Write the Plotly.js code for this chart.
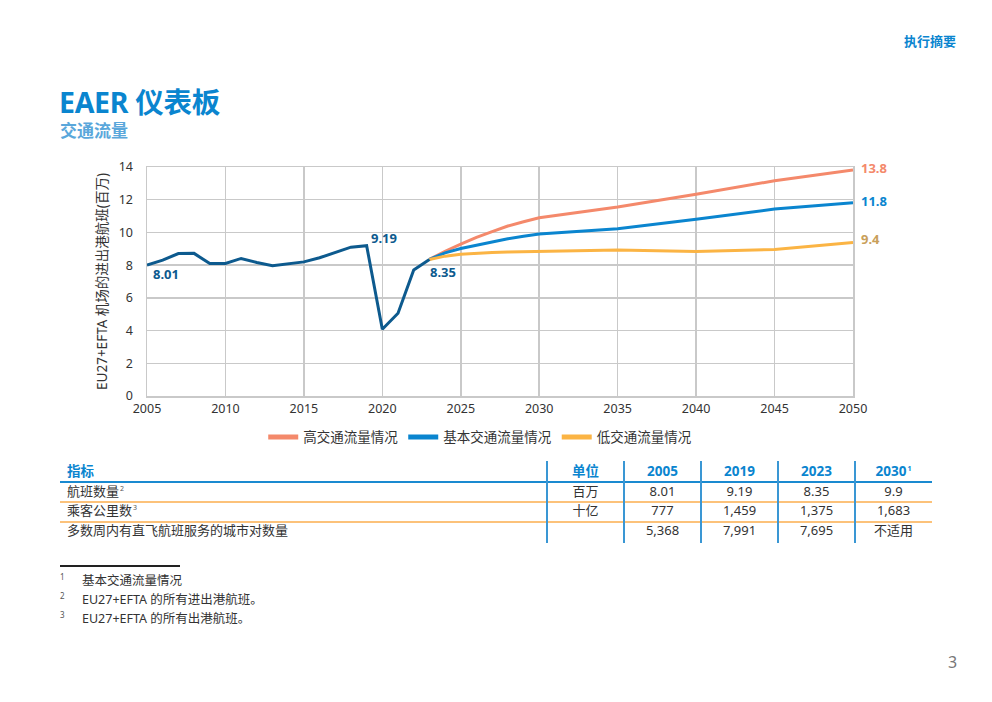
<!DOCTYPE html>
<html>
<head>
<meta charset="utf-8">
<script src="https://cdn.plot.ly/plotly-3.0.1.min.js"></script>
<style>
  html, body { margin:0; padding:0; background:#fff; }
  body { width:992px; height:702px; position:relative; overflow:hidden;
         font-family:"Noto Sans","Noto Sans CJK SC",sans-serif; color:#333; }
  #chart { position:absolute; left:0; top:0; width:992px; height:702px; }
  .abs { position:absolute; white-space:nowrap; }
  .cell { position:absolute; font-size:13px; line-height:19px; height:19px; color:#333; white-space:nowrap; }
  .sp { font-size:7px; color:#555; position:relative; top:-5px; margin-left:1px; line-height:0; }
</style>
</head>
<body>
<div id="chart"></div>
<div id="overlay"></div>
<script>
// ---------- data ----------
const histYears = [2005,2006,2007,2008,2009,2010,2011,2012,2013,2014,2015,2016,2017,2018,2019,2020,2021,2022,2023];
const histValues = [8.01,8.31,8.71,8.72,8.10,8.10,8.41,8.16,7.96,8.08,8.20,8.45,8.78,9.10,9.19,4.08,5.06,7.71,8.35];

const projYears = [2023,2024,2025,2026,2027,2028,2029,2030,2035,2040,2045,2050];
const highValues = [8.35,8.85,9.29,9.70,10.05,10.39,10.65,10.90,11.55,12.33,13.16,13.82];
const baseValues = [8.35,8.75,9.02,9.22,9.42,9.61,9.76,9.90,10.22,10.80,11.43,11.82];
const lowValues  = [8.35,8.55,8.67,8.74,8.78,8.80,8.82,8.84,8.92,8.84,8.96,9.39];

const seriesNames = ['高交通流量情况','基本交通流量情况','低交通流量情况'];
const yTitle = 'EU27+EFTA 机场的进出港航班(百万)';

const tableHeader = ['指标','单位','2005','2019','2023','2030'];
const tableRowLabels = ['航班数量','乘客公里数','多数周内有直飞航班服务的城市对数量'];
const tableRowSup = ['2','3',''];
const tableUnits = ['百万','十亿',''];
const table2005 = ['8.01','777','5,368'];
const table2019 = ['9.19','1,459','7,991'];
const table2023 = ['8.35','1,375','7,695'];
const table2030 = ['9.9','1,683','不适用'];

const footnotes = ['基本交通流量情况','EU27+EFTA 的所有进出港航班。','EU27+EFTA 的所有出港航班。'];

// ---------- chart ----------
const FONT = '"Noto Sans","Noto Sans CJK SC",sans-serif';
const cHist = '#0d5a8e', cHigh = '#f4896b', cBase = '#0a85cf', cLow = '#fbb444';

const traces = [
  {x: projYears, y: highValues, name: seriesNames[0], mode:'lines', line:{color:cHigh, width:3}},
  {x: projYears, y: baseValues, name: seriesNames[1], mode:'lines', line:{color:cBase, width:3}},
  {x: projYears, y: lowValues,  name: seriesNames[2], mode:'lines', line:{color:cLow, width:3}},
  {x: histYears, y: histValues, name: 'hist', mode:'lines', line:{color:cHist, width:3}, showlegend:false}
];

const iLast = histValues.length - 1;
const i2019 = histYears.indexOf(2019);
const nP = projYears.length - 1;
const annotations = [
  {x: histYears[0], y: histValues[0], text: histValues[0].toFixed(2), xanchor:'left', yanchor:'top', xshift:4, yshift:2, font:{color:cHist}},
  {x: histYears[i2019], y: histValues[i2019], text: histValues[i2019].toFixed(2), xanchor:'left', yanchor:'bottom', xshift:2, yshift:-3, font:{color:cHist}},
  {x: histYears[iLast], y: histValues[iLast], text: histValues[iLast].toFixed(2), xanchor:'left', yanchor:'top', xshift:-1, yshift:-2, font:{color:cHist}},
  {x: projYears[nP], y: highValues[nP], text: highValues[nP].toFixed(1), xanchor:'left', yanchor:'middle', xshift:6, yshift:2, font:{color:cHigh}},
  {x: projYears[nP], y: baseValues[nP], text: baseValues[nP].toFixed(1), xanchor:'left', yanchor:'middle', xshift:6, yshift:2, font:{color:cBase}},
  {x: projYears[nP], y: lowValues[nP],  text: lowValues[nP].toFixed(1),  xanchor:'left', yanchor:'middle', xshift:6, yshift:3, font:{color:'#c9a05a'}}
].map(a => Object.assign({showarrow:false}, a, {font:Object.assign({family:FONT, size:13, weight:'bold'}, a.font)}));

const layout = {
  width: 992, height: 702,
  margin: {l:147, r:139, t:167, b:306, pad:0},
  paper_bgcolor:'rgba(0,0,0,0)', plot_bgcolor:'#fff',
  font: {family: FONT, size: 12.5, color:'#333'},
  showlegend: true,
  legend: {orientation:'h', x:0.472, xanchor:'center', y:-0.18, yanchor:'middle',
           font:{size:13.5, color:'#333'}, itemwidth:30, tracegroupgap:0, itemsizing:'constant'},
  xaxis: {range:[2005,2050], dtick:5, tick0:2005, showgrid:true, gridcolor:'#c9c9c9', gridwidth:1.5,
          zeroline:false, showline:true, linecolor:'#c9c9c9', linewidth:1.5, mirror:true,
          ticks:'', ticklen:0, tickfont:{size:12.5, color:'#333'}, ticklabelstandoff:0, fixedrange:true},
  yaxis: {range:[0,14], dtick:2, showgrid:true, gridcolor:'#c9c9c9', gridwidth:1.5,
          zeroline:false, showline:true, linecolor:'#c9c9c9', linewidth:1.5, mirror:true,
          ticks:'', tickfont:{size:12.5, color:'#333'}, ticklabelstandoff:10, fixedrange:true,
          title:{text: yTitle, font:{size:13.5, color:'#333'}, standoff:8}},
  annotations: annotations
};

Plotly.newPlot('chart', traces, layout, {displayModeBar:false, staticPlot:true});

// ---------- text & table overlay ----------
const ov = document.getElementById('overlay');
function add(html, style, cls) {
  const d = document.createElement('div');
  d.className = cls || 'abs';
  d.innerHTML = html;
  Object.assign(d.style, style);
  ov.appendChild(d);
  return d;
}
function line(x, y, w, h, color) {
  add('', {left:x+'px', top:y+'px', width:w+'px', height:h+'px', background:color});
}

add('执行摘要', {left:'904px', top:'31px', fontSize:'13px', fontWeight:'bold', color:'#0a85cf'});
add('EAER 仪表板', {left:'59px', top:'80px', fontSize:'28.5px', fontWeight:'bold', color:'#0a85cf', letterSpacing:'-0.3px'});
add('交通流量', {left:'60px', top:'117px', fontSize:'17px', fontWeight:'bold', color:'#5aa7db'});

// table
const colEdges = [60, 547, 624, 701, 778, 855, 932];
const rowTops = [462, 482, 501, 521];
const cols = [tableRowLabels, tableUnits, table2005, table2019, table2023, table2030];

tableHeader.forEach((h, c) => {
  const txt = (c === 5) ? h + '<span class="sp" style="color:#0a85cf">1</span>' : h;
  const st = {top: rowTops[0]+'px', fontWeight:'bold', color:'#0a85cf', fontSize:'13.5px'};
  if (c === 0) { st.left = (colEdges[0]+7)+'px'; }
  else { st.left = colEdges[c]+'px'; st.width = (colEdges[c+1]-colEdges[c])+'px'; st.textAlign='center'; }
  add(txt, st, 'cell');
});
for (let r = 0; r < 3; r++) {
  cols.forEach((col, c) => {
    let txt = col[r];
    if (c === 0 && tableRowSup[r]) txt += '<span class="sp">' + tableRowSup[r] + '</span>';
    const st = {top: rowTops[r+1]+'px'};
    if (c === 0) { st.left = (colEdges[0]+7)+'px'; }
    else { st.left = colEdges[c]+'px'; st.width = (colEdges[c+1]-colEdges[c])+'px'; st.textAlign='center'; }
    add(txt, st, 'cell');
  });
}
line(60, 481, 872, 2, '#1a8ad0');
line(60, 501, 872, 2, '#fcc27a');
line(60, 521, 872, 2, '#fcc27a');
for (let c = 1; c <= 5; c++) line(colEdges[c]-1, 461, 1.5, 82, '#3a97d4');

// footnotes
line(60, 565, 120, 2, '#222');
footnotes.forEach((f, i) => {
  add(String(i+1), {left:'60px', top:(571+i*19)+'px', fontSize:'8px', color:'#555'});
  add(f, {left:'82px', top:(570+i*19)+'px', fontSize:'12.5px', color:'#333'});
});

add('3', {left:'948px', top:'651px', fontSize:'16px', color:'#777'});
</script>
</body>
</html>
